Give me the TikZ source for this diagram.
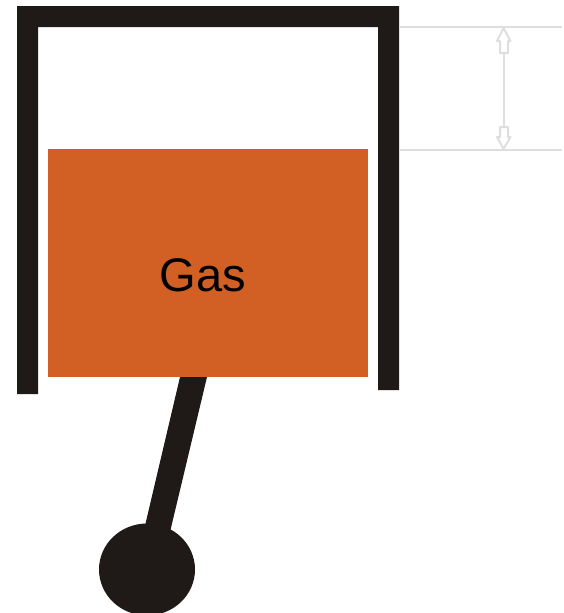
\documentclass[tikz,border=0pt]{standalone}
\usepackage{fontspec}
\setmainfont{Liberation Sans}
\definecolor{wallblack}{HTML}{1F1A17}
\definecolor{gasorange}{HTML}{D26024}
\definecolor{rulegrey}{HTML}{DEDEDE}
\tikzset{
    wall/.style={fill=wallblack, draw=none},
    rule/.style={draw=rulegrey, line width=0.024cm},
    hollowtip/.style={draw=rulegrey, line width=0.04cm, fill=white, line join=round}
}
\begin{document}
\begin{tikzpicture}[x=0.02cm, y=-0.02cm]
\useasboundingbox (0,0) rectangle (564,613);
% Cylinder
\fill[wall] (17,6) -- (399,6) -- (399,390) -- (378,390) -- (378,27) -- (38,27) -- (38,394) -- (17,394) -- cycle;
% Gas
\fill[gasorange] (48,149) rectangle (368,377);
\node (gas) at (203,275) {\fontsize{26.8pt}{30pt}\selectfont Gas};
% Rod and crank
\fill[wall] (180,377) -- (207,377) -- (170,532) -- (144,530) -- cycle;
\fill[wall] (147,569.5) ellipse (48 and 46);
% Annotations
\coordinate (topleft) at (399,27);
\coordinate (topright) at (562,27);
\coordinate (lowleft) at (399,150);
\coordinate (lowright) at (562,150);
\coordinate (shafttop) at (504,53);
\coordinate (shaftlow) at (504,127);
\draw[rule] (topleft) -- (topright);
\draw[rule] (lowleft) -- (lowright);
\draw[rule] (shafttop) -- (shaftlow);
\draw[hollowtip] (503.5,28) -- (510.5,41) -- (508,41) -- (508,53) -- (500,53) -- (500,41) -- (497,41) -- cycle;
\draw[hollowtip] (503.5,149) -- (510.5,137) -- (508,137) -- (508,127) -- (500,127) -- (500,137) -- (497,137) -- cycle;
\end{tikzpicture}
\end{document}
